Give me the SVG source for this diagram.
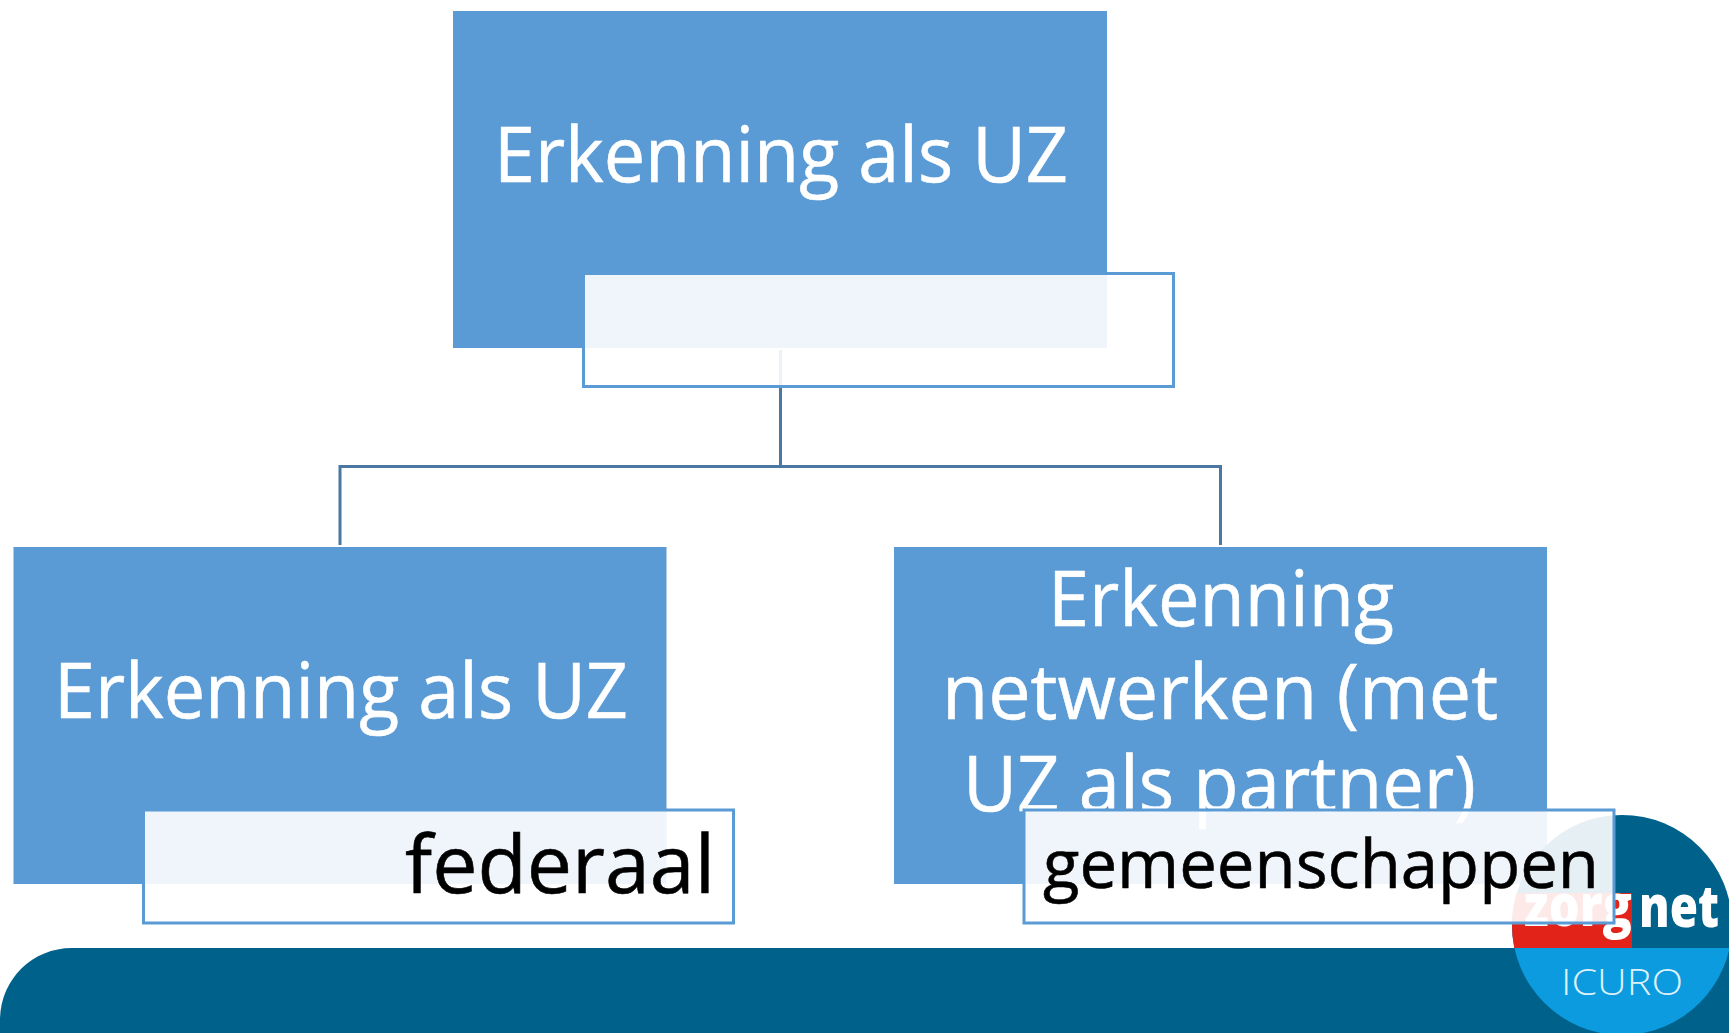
<svg xmlns="http://www.w3.org/2000/svg" width="1729" height="1033" viewBox="0 0 1729 1033">
<style>
.box{fill:#5B9BD5}
.callout{fill:#fff;fill-opacity:.9;stroke:#5B9BD5;stroke-width:3}
.conn{fill:none;stroke:#41719C;stroke-width:3;opacity:.95}
text{font-family:"Open Sans","Noto Sans",sans-serif}
.w{fill:#fff;font-size:77px;stroke:#fff;stroke-width:.6}
.b{fill:#000;stroke:#000;stroke-width:.6}
</style>
<rect width="1729" height="1033" fill="#fff"/>
<g id="footer">
<path d="M0 1033V1020C0 980 32 948 72 948H1729V1033Z" fill="#00618A"/>
</g>
<g id="node-top">
<rect class="box" x="453" y="11" width="654" height="337"/>
<text class="w" x="494" y="182" textLength="574" lengthAdjust="spacingAndGlyphs">Erkenning als UZ</text>
</g>
<g id="node-left">
<rect class="box" x="13.500" y="547" width="653" height="337"/>
<text class="w" x="54" y="718" textLength="574" lengthAdjust="spacingAndGlyphs">Erkenning als UZ</text>
</g>
<g id="node-right">
<rect class="box" x="894" y="547" width="653" height="337"/>
<text class="w" x="1048" y="626" textLength="346" lengthAdjust="spacingAndGlyphs">Erkenning</text>
<text class="w" x="942" y="719" textLength="556" lengthAdjust="spacingAndGlyphs">netwerken (met</text>
<text class="w" x="963" y="811" textLength="513" lengthAdjust="spacingAndGlyphs">UZ als partner)</text>
</g>
<g id="connectors">
<path class="conn" d="M780.500 350V466.500M340 545V466.500H1220.500V545"/>
</g>
<g id="logo">
<clipPath id="c"><circle cx="1622" cy="925" r="110"/></clipPath>
<g clip-path="url(#c)">
<rect x="1500" y="810" width="240" height="138" fill="#00618A"/>
<rect x="1500" y="948" width="240" height="90" fill="#0C9BDF"/>
<rect x="1500" y="893" width="132" height="55" fill="#E2231A"/>
</g>
<text x="1524" y="926" fill="#fff" font-size="58" font-weight="800" textLength="108" lengthAdjust="spacingAndGlyphs">zorg</text>
<text x="1639" y="927" fill="#fff" font-size="58" font-weight="800" textLength="80" lengthAdjust="spacingAndGlyphs">net</text>
<text x="1561" y="995" fill="#DDF1FB" font-size="37" font-weight="300" textLength="122" lengthAdjust="spacingAndGlyphs">ICURO</text>
</g>
<g id="callout-top">
<rect class="callout" x="583.500" y="273.500" width="590" height="113"/>
</g>
<g id="callout-left">
<rect class="callout" x="143.500" y="810" width="590" height="113"/>
<text class="b" x="405" y="893" font-size="80" textLength="310" lengthAdjust="spacingAndGlyphs">federaal</text>
</g>
<g id="callout-right">
<rect class="callout" x="1024" y="810" width="590" height="113"/>
<text class="b" x="1043" y="888" font-size="68" textLength="556" lengthAdjust="spacingAndGlyphs">gemeenschappen</text>
</g>
</svg>
